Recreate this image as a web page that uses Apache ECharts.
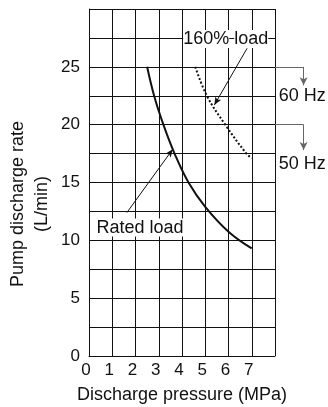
<!DOCTYPE html>
<html>
<head>
<meta charset="utf-8">
<script src="https://cdn.jsdelivr.net/npm/echarts@6/dist/echarts.min.js"></script>
<style>
  html, body { margin: 0; padding: 0; background: #fff; }
  #chart { width: 328px; height: 407px; }
</style>
</head>
<body>
<div id="chart"></div>
<script>
  // curves: [pressure MPa, flow L/min]
  const ratedLoad = [[2.5, 25], [2.8, 22.5], [3.2, 20], [3.68, 17.5], [4.28, 15], [5, 12.9], [6, 10.75], [7, 9.3]]
  const load160 = [[4.57, 25], [5.07, 22.5], [5.86, 20], [6.77, 17.5], [7, 17.1]]

  const xTicks = ['0', '1', '2', '3', '4', '5', '6', '7']
  const yTicks = ['0', '5', '10', '15', '20', '25']

  // annotation texts and arrows, in data units of the overlay axes
  const notes = [[5.88, 27.4, '{a|160%} {a|load}'], [2.19, 11.1, '{a|Rated} {a|load}']]
  const hzNotes = [[9.17, 22.5, '60 Hz'], [9.17, 16.6, '50 Hz']]
  const arrows = [
    [[6.8, 26.6], [5.39, 21.7]],
    [[1.63, 12.4], [3.6, 17.87]]
  ]
  const brackets = [
    [[8, 25], [9.23, 25], [9.23, 23.4]],
    [[8, 20], [9.23, 20], [9.23, 17.8]]
  ]

  const font = 'Liberation Sans, Arial, sans-serif'
  const ink = '#111'
  const grey = '#666'

  let arrowLines = []
  arrows.forEach(a => {
    arrowLines.push([
      { coord: a[0], symbol: 'none', lineStyle: { color: ink, width: 1, type: 'solid' } },
      { coord: a[1], symbol: 'arrow', symbolSize: [5, 8] }
    ])
  })
  brackets.forEach(b => {
    arrowLines.push([
      { coord: b[0], symbol: 'none', lineStyle: { color: grey, width: 1, type: 'solid' } },
      { coord: b[1], symbol: 'none' }
    ])
    arrowLines.push([
      { coord: b[1], symbol: 'none', lineStyle: { color: grey, width: 1, type: 'solid' } },
      { coord: b[2], symbol: 'arrow', symbolSize: [6, 8] }
    ])
  })

  const mychart = echarts.init(document.getElementById('chart'))
  mychart.setOption({
    animation: false,
    grid: [
      { left: 89, top: 9, bottom: 51, width: 186, outerBoundsMode: 'none' },
      { left: 89, top: 9, bottom: 51, width: 232.5, outerBoundsMode: 'none' }
    ],
    xAxis: [
      {
        type: 'value', min: 0, max: 8, interval: 1,
        name: 'Discharge pressure (MPa)',
        nameLocation: 'middle',
        nameGap: 30,
        nameMoveOverlap: false,
        nameTextStyle: { color: ink, fontSize: 18, fontFamily: font },
        axisLine: { show: true, lineStyle: { color: ink, width: 1 } },
        axisTick: { show: false },
        axisLabel: {
          color: ink, fontSize: 17, fontFamily: font, margin: 6,
          padding: [0, 6, 0, 0],
          formatter: v => xTicks[v] || ''
        },
        splitLine: { show: true, lineStyle: { color: ink, width: 1 } }
      },
      { gridIndex: 1, type: 'value', min: 0, max: 10, show: false }
    ],
    yAxis: [
      {
        type: 'value', min: 0, max: 30, interval: 2.5,
        name: 'Pump discharge rate\n(L/min)',
        nameLocation: 'middle',
        nameRotate: 90,
        nameGap: 35,
        nameMoveOverlap: false,
        nameTextStyle: { color: ink, fontSize: 18, fontFamily: font, lineHeight: 24, padding: [0, 43, 0, 0] },
        axisLine: { show: true, lineStyle: { color: ink, width: 1 } },
        axisTick: { show: false },
        axisLabel: {
          color: ink, fontSize: 17, fontFamily: font, margin: 9,
          formatter: v => yTicks.indexOf(String(v)) >= 0 ? String(v) : ''
        },
        splitLine: { show: true, lineStyle: { color: ink, width: 1 } }
      },
      { gridIndex: 1, type: 'value', min: 0, max: 30, show: false }
    ],
    series: [
      {
        name: 'Rated load',
        type: 'line',
        data: ratedLoad,
        smooth: 0.4,
        showSymbol: false,
        lineStyle: { color: ink, width: 2 }
      },
      {
        name: '160% load',
        type: 'line',
        data: load160,
        smooth: 0.4,
        showSymbol: false,
        lineStyle: { color: ink, width: 2, type: [2, 2] }
      },
      {
        type: 'scatter',
        xAxisIndex: 1,
        yAxisIndex: 1,
        data: notes.concat(hzNotes),
        symbolSize: 0,
        silent: true,
        itemStyle: { opacity: 1 },
        label: {
          show: true,
          position: 'inside',
          formatter: p => p.data[2],
          color: ink,
          opacity: 1,
          fontSize: 18,
          fontFamily: font,
          rich: {
            a: { color: ink, fontSize: 18, fontFamily: font, backgroundColor: '#fff' }
          }
        },
        markLine: {
          silent: true,
          animation: false,
          label: { show: false },
          lineStyle: { type: 'solid' },
          emphasis: { disabled: true },
          data: arrowLines
        }
      }
    ]
  })
</script>
</body>
</html>
